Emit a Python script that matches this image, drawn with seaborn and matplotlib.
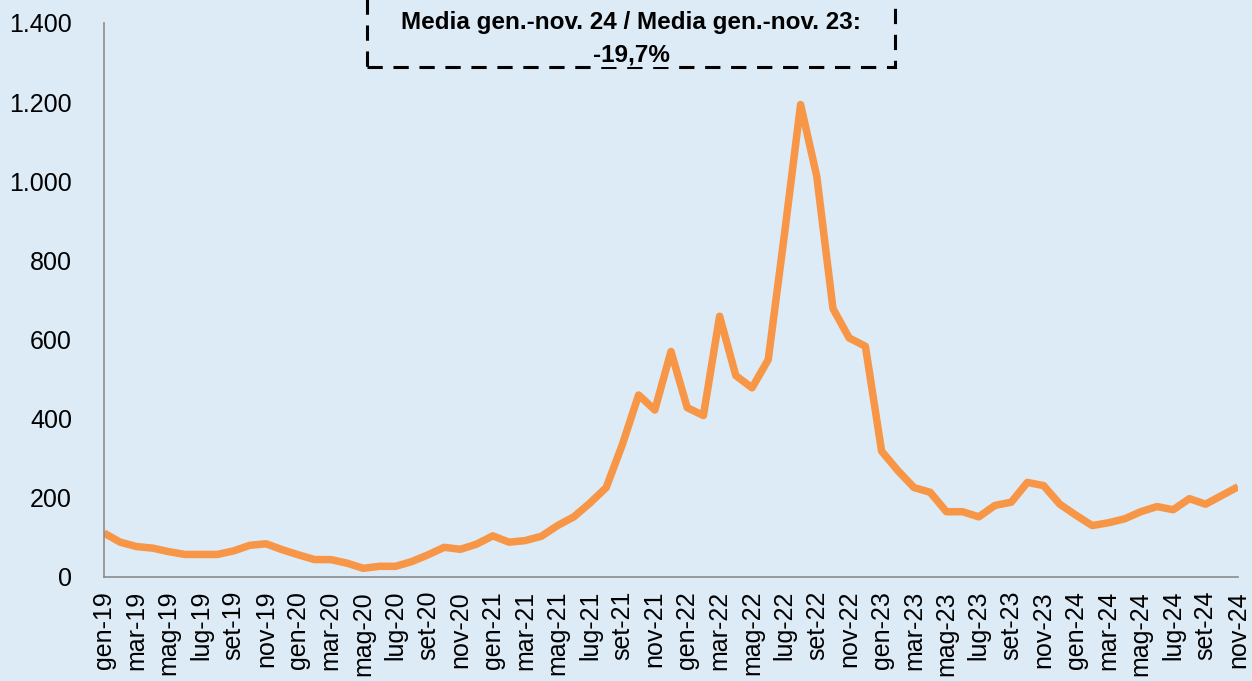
import matplotlib
matplotlib.use("Agg")
import matplotlib.pyplot as plt
import matplotlib.patches as mpatches
import seaborn as sns
import pandas as pd
import numpy as np

months = ["gen", "feb", "mar", "apr", "mag", "giu", "lug", "ago", "set", "ott", "nov", "dic"]
years = ["19", "20", "21", "22", "23", "24"]
labels = [f"{m}-{y}" for y in years for m in months][:71]

values = [
    111, 88, 77, 73, 64, 57, 57, 57, 66, 80, 84, 69,      # 2019
    56, 44, 44, 35, 22, 27, 27, 39, 56, 75, 70, 83,       # 2020
    104, 88, 92, 103, 130, 152, 187, 226, 335, 460, 422, 570,  # 2021
    428, 408, 659, 509, 478, 549, 865, 1194, 1012, 678, 604, 583,  # 2022
    318, 269, 226, 214, 165, 165, 152, 181, 189, 239, 231, 184,  # 2023
    156, 130, 137, 147, 165, 178, 170, 198, 184, 206, 228,  # 2024
]

annot_line1 = "Media gen.-nov. 24 / Media gen.-nov. 23:"
annot_line2 = "-19,7%"

bg = "#DDEBF7"
sns.set_theme(style="white")
plt.rcParams["font.family"] = ["Liberation Sans", "DejaVu Sans"]

df = pd.DataFrame({"idx": np.arange(len(values)), "val": values})

fig = plt.figure(figsize=(12.52, 6.81), dpi=100, facecolor=bg)
ax = fig.add_axes([104 / 1252, 104 / 681, (1238 - 104) / 1252, (577 - 23) / 681])
ax.set_facecolor(bg)

sns.lineplot(data=df, x="idx", y="val", ax=ax, color="#F79646", linewidth=5.4,
             solid_joinstyle="round", solid_capstyle="butt")

ax.set_xlim(0, len(values) - 1)
ax.set_ylim(0, 1400)
ax.set_xlabel("")
ax.set_ylabel("")

xt = np.arange(0, len(values), 2)
ax.set_xticks(xt)
ax.set_xticklabels([labels[i] for i in xt], rotation=90, fontsize=18, color="black")
yt = np.arange(0, 1401, 200)
ax.set_yticks(yt)
ax.set_yticklabels([f"{v:,}".replace(",", ".") for v in yt], fontsize=18, color="black")

for s in ["top", "right"]:
    ax.spines[s].set_visible(False)
for s in ["left", "bottom"]:
    ax.spines[s].set_color("#8C8C8C")
    ax.spines[s].set_linewidth(1.2)
ax.tick_params(axis="both", direction="out", length=6, width=1.2, color="#8C8C8C")
ax.tick_params(axis="y", pad=17)
ax.tick_params(axis="x", pad=4)
ax.grid(False)

# annotation box (dashed, top clipped by the figure edge)
rect = mpatches.Rectangle((367 / 1252, (681 - 67) / 681), (895 - 367) / 1252, 0.2,
                          transform=fig.transFigure, fill=False, edgecolor="black",
                          linewidth=2.2, linestyle=(0, (5, 3.5)), zorder=5)
fig.patches.append(rect)
fig.text(631 / 1252, 1 - 22 / 681, annot_line1, ha="center", va="center",
         fontsize=17.5, fontweight="bold", color="black", zorder=6)
fig.text(631 / 1252, 1 - 55 / 681, annot_line2, ha="center", va="center",
         fontsize=17.5, fontweight="bold", color="black", zorder=6,
         bbox=dict(facecolor=bg, edgecolor="none", pad=0.5))

fig.savefig("out.png", dpi=100, facecolor=bg)
